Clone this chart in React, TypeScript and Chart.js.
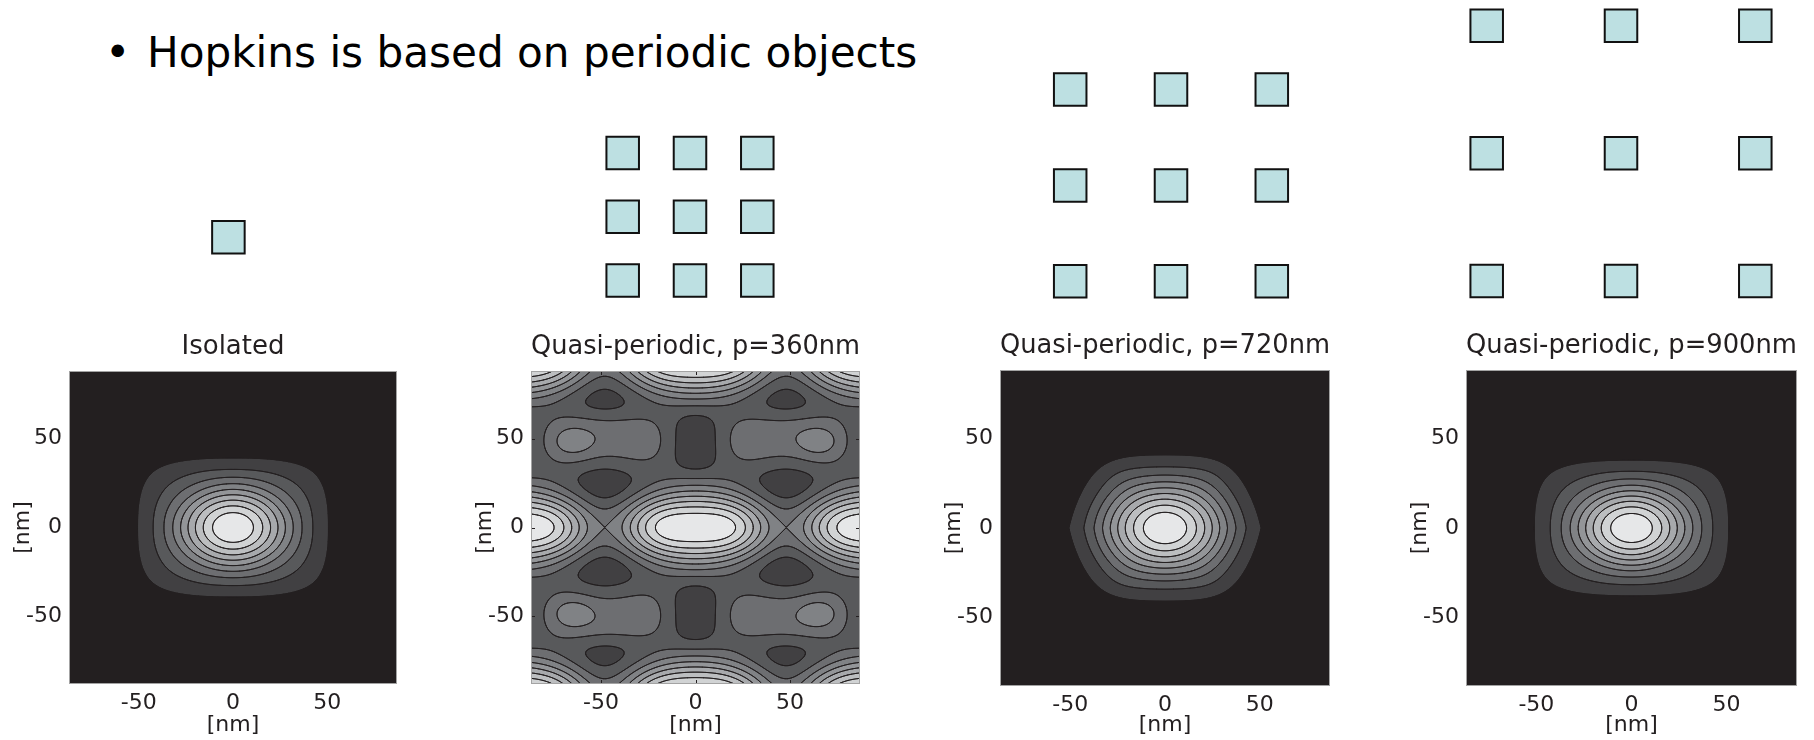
import React, { useEffect, useRef } from "react";
import { Chart, registerables } from "chart.js";

Chart.register(...registerables);

const FONT = "'DejaVu Sans', Verdana, sans-serif";
const INK = "#231f20";
const FRAME = "#a3a3a3";
const SQUARE_FILL = "#bde0e2";
const SQUARE_EDGE = "#111111";

// ---------- content ----------
const HEADLINE = "Hopkins is based on periodic objects";
const PANEL_TITLES = [
  "Isolated",
  "Quasi-periodic, p=360nm",
  "Quasi-periodic, p=720nm",
  "Quasi-periodic, p=900nm",
];
const AXIS_LABEL = "[nm]";
const TICK_VALUES = [-50, 0, 50];
const X_LIMITS = [-87, 87];
const Y_LIMITS = [-88, 88];

// intensity levels (normalised to the peak) separating the filled bands
const CONTOUR_LEVELS = [0.1, 0.2, 0.3, 0.4, 0.5, 0.6, 0.7, 0.8, 0.9];
const BAND_GRAYS = [
  "#231f20", "#414042", "#58595b", "#6d6e71", "#808285",
  "#939598", "#a7a9ac", "#bcbec0", "#d1d3d4", "#e6e7e8",
];

// single-spot aerial images: [sigma x (nm), sigma y (nm), squareness, hexagonal blend]
const SPOT_ISOLATED = [23.6, 18.2, 0.8, 0];
const SPOT_P720 = [24.8, 19.0, 0, 1];
const SPOT_P900 = [23.8, 17.6, 0.8, 0];

// p=360 aerial image: image-plane period (nm) and cosine harmonics [m, n, amplitude]
const PERIOD_P360 = 96;
const HARMONICS_P360 = [
  [0, 0, 0.4154], [1, 0, 0.1138], [0, 1, 0.2293], [1, 1, 0.2025], [0, 2, 0.1304],
  [1, 2, -0.0163], [2, 0, -0.0416], [2, 1, -0.0068], [2, 2, -0.0266],
];
// local corrections near the array border: [x, y, amplitude, width x, width y]
const LOCAL_TERMS_P360 = [
  [-64, 48, 0.06, 7, 5], [64, 48, 0.06, 7, 5],
  [-64, -48, 0.06, 7, 5], [64, -48, 0.06, 7, 5],
  [-30, 48, -0.05, 9, 7], [30, 48, -0.05, 9, 7],
  [-30, -48, -0.05, 9, 7], [30, -48, -0.05, 9, 7],
  [0, 48, -0.035, 10, 14], [0, -48, -0.035, 10, 14],
  [-48, 72, 0.025, 16, 9], [48, 72, 0.025, 16, 9],
  [-48, -72, 0.025, 16, 9], [48, -72, 0.025, 16, 9],
  [-50, 58, 0.05, 18, 6], [50, 58, 0.05, 18, 6],
  [-50, -58, 0.05, 18, 6], [50, -58, 0.05, 18, 6],
];

// mask layouts sketched above each panel (lattice indices)
const ISOLATED_SITES = [0];
const ARRAY_SITES = [-1, 0, 1];

// ---------- layout ----------
const PATTERN_LAYOUT = [
  { cx: 228.4, cy: 237.3, dx: 67.3, dy: 63.8 },
  { cx: 690, cy: 216.7, dx: 67.3, dy: 63.8 },
  { cx: 1171, cy: 185.4, dx: 100.8, dy: 95.9 },
  { cx: 1621, cy: 153.3, dx: 134.3, dy: 127.6 },
];
const PANEL_LAYOUT = [
  { left: 0, top: 334, plotW: 328, plotH: 313 },
  { left: 462, top: 334, plotW: 329, plotH: 313 },
  { left: 931, top: 333, plotW: 330, plotH: 316 },
  { left: 1397, top: 333, plotW: 331, plotH: 316 },
];
const Y_AXIS_W = 69;
const RIGHT_PAD = 4;
const TITLE_BLOCK = 37;
const PAGE_H = 740;

type Field = (x: number, y: number) => number;

const clamp01 = (t: number) => Math.min(1, Math.max(0, t));

function spotField(p: number[]): Field {
  const [sx, sy, sq, hex] = p;
  return (x, y) => {
    const ax = Math.abs(x) / sx;
    const ay = Math.abs(y) / sy;
    const re = Math.sqrt(ax * ax + ay * ay);
    let rho: number;
    if (hex > 0) {
      // flat top/bottom with slanted flanks for the outer levels
      const m = 7;
      const slant = (ax + 0.527 * ay) / 1.1356;
      const ro = Math.pow(Math.pow(ax, m) + Math.pow(ay, m) + Math.pow(slant, m), 1 / m);
      const w = Math.pow(clamp01((re - 0.8) / 1.1), 1.3) * hex;
      rho = re * (1 - w) + ro * w;
    } else {
      const n = 2 + 1.9 * sq * Math.pow(clamp01((re - 1.25) / 1.25), 1.5);
      rho = Math.pow(Math.pow(ax, n) + Math.pow(ay, n), 1 / n);
    }
    return Math.exp(-0.5 * rho * rho);
  };
}

function periodicField(x: number, y: number): number {
  const u = (2 * Math.PI * x) / PERIOD_P360;
  const v = (2 * Math.PI * y) / PERIOD_P360;
  let s = 0;
  for (const [m, n, a] of HARMONICS_P360) s += a * Math.cos(m * u) * Math.cos(n * v);
  for (const [bx, by, a, wx, wy] of LOCAL_TERMS_P360) {
    const qx = (x - bx) / wx;
    const qy = (y - by) / wy;
    s += a * Math.exp(-0.5 * (qx * qx + qy * qy));
  }
  return s;
}

const PANEL_FIELDS: Field[] = [
  spotField(SPOT_ISOLATED),
  periodicField,
  spotField(SPOT_P720),
  spotField(SPOT_P900),
];
const PANEL_SITES = [ISOLATED_SITES, ARRAY_SITES, ARRAY_SITES, ARRAY_SITES];

function hexRgb(h: string) {
  const n = parseInt(h.slice(1), 16);
  return [(n >> 16) & 255, (n >> 8) & 255, n & 255];
}

function bandIndex(v: number) {
  let b = 0;
  while (b < CONTOUR_LEVELS.length && v >= CONTOUR_LEVELS[b]) b++;
  return b;
}

// marching-squares segment table; edges: 0 bottom, 1 right, 2 top, 3 left
const SEGMENTS: (number[][] | null)[] = [
  [], [[3, 0]], [[0, 1]], [[3, 1]], [[1, 2]], null, [[0, 2]], [[3, 2]],
  [[2, 3]], [[0, 2]], null, [[1, 2]], [[3, 1]], [[0, 1]], [[3, 0]], [],
];

function contourPlugin(field: Field) {
  return {
    id: "contourField",
    beforeDatasetsDraw(chart: any) {
      const { ctx, chartArea: area } = chart;
      const xs = chart.scales.x;
      const ys = chart.scales.y;
      const left = Math.round(area.left);
      const top = Math.round(area.top);
      const w = Math.round(area.right) - left;
      const h = Math.round(area.bottom) - top;
      const rgb = BAND_GRAYS.map(hexRgb);

      // filled bands, 2x2 samples per pixel
      const img = ctx.createImageData(w, h);
      const sub = [0.25, 0.75];
      const xv = new Float64Array(w * 2);
      for (let i = 0; i < w; i++) {
        xv[i * 2] = xs.getValueForPixel(left + i + sub[0]);
        xv[i * 2 + 1] = xs.getValueForPixel(left + i + sub[1]);
      }
      for (let j = 0; j < h; j++) {
        const y0 = ys.getValueForPixel(top + j + sub[0]);
        const y1 = ys.getValueForPixel(top + j + sub[1]);
        for (let i = 0; i < w; i++) {
          let r = 0, g = 0, b = 0;
          for (const yy of [y0, y1]) {
            for (let k = 0; k < 2; k++) {
              const c = rgb[bandIndex(field(xv[i * 2 + k], yy))];
              r += c[0]; g += c[1]; b += c[2];
            }
          }
          const o = (j * w + i) * 4;
          img.data[o] = r / 4;
          img.data[o + 1] = g / 4;
          img.data[o + 2] = b / 4;
          img.data[o + 3] = 255;
        }
      }
      ctx.putImageData(img, left, top);

      // contour lines
      const step = 0.5;
      const gx0 = X_LIMITS[0] - 1, gy0 = Y_LIMITS[0] - 1;
      const nx = Math.round((X_LIMITS[1] - X_LIMITS[0] + 2) / step) + 1;
      const ny = Math.round((Y_LIMITS[1] - Y_LIMITS[0] + 2) / step) + 1;
      const grid = new Float64Array(nx * ny);
      for (let j = 0; j < ny; j++)
        for (let i = 0; i < nx; i++) grid[j * nx + i] = field(gx0 + i * step, gy0 + j * step);

      ctx.save();
      ctx.beginPath();
      ctx.rect(area.left, area.top, area.right - area.left, area.bottom - area.top);
      ctx.clip();
      ctx.strokeStyle = INK;
      ctx.lineWidth = 1;
      ctx.lineJoin = "round";
      ctx.lineCap = "round";
      for (const L of CONTOUR_LEVELS) {
        ctx.beginPath();
        for (let j = 0; j < ny - 1; j++) {
          for (let i = 0; i < nx - 1; i++) {
            const va = grid[j * nx + i];
            const vb = grid[j * nx + i + 1];
            const vc = grid[(j + 1) * nx + i + 1];
            const vd = grid[(j + 1) * nx + i];
            const code = (va >= L ? 1 : 0) | (vb >= L ? 2 : 0) | (vc >= L ? 4 : 0) | (vd >= L ? 8 : 0);
            if (code === 0 || code === 15) continue;
            let segs = SEGMENTS[code];
            if (!segs) {
              const centre = (va + vb + vc + vd) / 4 >= L;
              if (code === 5) segs = centre ? [[0, 1], [2, 3]] : [[3, 0], [1, 2]];
              else segs = centre ? [[3, 0], [1, 2]] : [[0, 1], [2, 3]];
            }
            const xa = gx0 + i * step;
            const ya = gy0 + j * step;
            const edge = (e: number): number[] => {
              if (e === 0) return [xa + ((L - va) / (vb - va)) * step, ya];
              if (e === 1) return [xa + step, ya + ((L - vb) / (vc - vb)) * step];
              if (e === 2) return [xa + ((L - vd) / (vc - vd)) * step, ya + step];
              return [xa, ya + ((L - va) / (vd - va)) * step];
            };
            for (const [e1, e2] of segs) {
              const p = edge(e1);
              const q = edge(e2);
              ctx.moveTo(xs.getPixelForValue(p[0]), ys.getPixelForValue(p[1]));
              ctx.lineTo(xs.getPixelForValue(q[0]), ys.getPixelForValue(q[1]));
            }
          }
        }
        ctx.stroke();
      }
      ctx.restore();
    },
    afterDraw(chart: any) {
      const { ctx, chartArea: a } = chart;
      const xs = chart.scales.x;
      const ys = chart.scales.y;
      ctx.save();
      ctx.strokeStyle = INK;
      ctx.lineWidth = 1;
      ctx.beginPath();
      for (const v of TICK_VALUES) {
        const px = Math.round(xs.getPixelForValue(v)) + 0.5;
        ctx.moveTo(px, a.bottom); ctx.lineTo(px, a.bottom - 4);
        ctx.moveTo(px, a.top); ctx.lineTo(px, a.top + 4);
        const py = Math.round(ys.getPixelForValue(v)) + 0.5;
        ctx.moveTo(a.left, py); ctx.lineTo(a.left + 4, py);
        ctx.moveTo(a.right, py); ctx.lineTo(a.right - 4, py);
      }
      ctx.stroke();
      ctx.strokeStyle = FRAME;
      ctx.strokeRect(a.left + 0.5, a.top + 0.5, a.right - a.left - 1, a.bottom - a.top - 1);
      ctx.restore();
    },
  };
}

function panelConfig(idx: number, canvasH: number) {
  const lay = PANEL_LAYOUT[idx];
  const xAxisH = canvasH - TITLE_BLOCK - lay.plotH;
  const tickFont = { family: FONT, size: 22, lineHeight: 1 };
  const fixedTicks = (s: any) => {
    s.ticks = TICK_VALUES.map((value) => ({ value }));
  };
  return {
    type: "scatter" as const,
    data: { datasets: [] },
    options: {
      responsive: false,
      animation: false as const,
      events: [],
      layout: { autoPadding: false, padding: { left: 0, right: RIGHT_PAD, top: 0, bottom: 0 } },
      plugins: {
        legend: { display: false },
        tooltip: { enabled: false },
        title: {
          display: true,
          text: PANEL_TITLES[idx],
          fullSize: false,
          color: INK,
          font: { family: FONT, size: 26, weight: "normal" as const, lineHeight: 1 },
          padding: { top: 0, bottom: TITLE_BLOCK - 26 },
        },
      },
      scales: {
        x: {
          type: "linear" as const,
          min: X_LIMITS[0],
          max: X_LIMITS[1],
          afterBuildTicks: fixedTicks,
          afterFit: (s: any) => {
            s.height = xAxisH;
          },
          grid: { display: false, drawTicks: false },
          border: { display: false },
          ticks: { color: INK, font: tickFont, padding: 8, maxRotation: 0, autoSkip: false },
          title: {
            display: true,
            text: AXIS_LABEL,
            color: INK,
            font: tickFont,
            padding: { top: 0, bottom: 3.5 },
          },
        },
        y: {
          type: "linear" as const,
          min: Y_LIMITS[0],
          max: Y_LIMITS[1],
          afterBuildTicks: fixedTicks,
          afterFit: (s: any) => {
            s.width = Y_AXIS_W;
          },
          grid: { display: false, drawTicks: false },
          border: { display: false },
          ticks: { color: INK, font: tickFont, padding: 7, autoSkip: false },
          title: {
            display: true,
            text: AXIS_LABEL,
            color: INK,
            font: tickFont,
            padding: { top: 12, bottom: 0 },
          },
        },
      },
    },
    plugins: [contourPlugin(PANEL_FIELDS[idx])],
  };
}

function patternGeometry(idx: number) {
  const g = PATTERN_LAYOUT[idx];
  const left = Math.floor(g.cx - g.dx - 30);
  const right = Math.ceil(g.cx + g.dx + 30);
  const top = Math.max(0, Math.floor(g.cy - g.dy - 30));
  const bottom = Math.ceil(g.cy + g.dy + 30);
  return {
    left,
    top,
    width: right - left,
    height: bottom - top,
    xmin: (left - g.cx) / g.dx,
    xmax: (right - g.cx) / g.dx,
    ymin: -(bottom - g.cy) / g.dy,
    ymax: (g.cy - top) / g.dy,
  };
}

function patternConfig(idx: number) {
  const geo = patternGeometry(idx);
  const sites = PANEL_SITES[idx];
  const data: { x: number; y: number }[] = [];
  for (const j of sites) for (const i of sites) data.push({ x: i, y: j });
  return {
    type: "scatter" as const,
    data: {
      datasets: [
        {
          data,
          pointStyle: "rect" as const,
          pointRadius: 23,
          pointHoverRadius: 23,
          backgroundColor: SQUARE_FILL,
          borderColor: SQUARE_EDGE,
          borderWidth: 2,
          clip: false as const,
        },
      ],
    },
    options: {
      responsive: false,
      animation: false as const,
      events: [],
      layout: { autoPadding: false, padding: 0 },
      plugins: { legend: { display: false }, tooltip: { enabled: false } },
      scales: {
        x: { type: "linear" as const, display: false, min: geo.xmin, max: geo.xmax },
        y: { type: "linear" as const, display: false, min: geo.ymin, max: geo.ymax },
      },
    },
  };
}

function ChartCanvas(props: { left: number; top: number; width: number; height: number; make: () => any }) {
  const ref = useRef<HTMLCanvasElement | null>(null);
  useEffect(() => {
    if (!ref.current) return;
    const chart = new Chart(ref.current, props.make());
    return () => chart.destroy();
  }, []);
  return (
    <canvas
      ref={ref}
      width={props.width}
      height={props.height}
      style={{ position: "absolute", left: props.left, top: props.top, width: props.width, height: props.height }}
    />
  );
}

export default function App() {
  const textStyle = {
    position: "absolute" as const,
    top: 27,
    fontFamily: FONT,
    fontSize: 43,
    lineHeight: "50px",
    color: "#000",
    whiteSpace: "nowrap" as const,
  };
  return (
    <div
      style={{
        position: "absolute",
        left: 0,
        top: 0,
        width: 1814,
        height: PAGE_H,
        overflow: "hidden",
        background: "#ffffff",
      }}
    >
      <div style={{ ...textStyle, left: 105 }}>•</div>
      <div style={{ ...textStyle, left: 147, transform: "scaleX(0.98)", transformOrigin: "0 0" }}>{HEADLINE}</div>
      {PATTERN_LAYOUT.map((_, i) => {
        const geo = patternGeometry(i);
        return (
          <ChartCanvas
            key={"pattern" + i}
            left={geo.left}
            top={geo.top}
            width={geo.width}
            height={geo.height}
            make={() => patternConfig(i)}
          />
        );
      })}
      {PANEL_LAYOUT.map((lay, i) => {
        const h = PAGE_H - lay.top;
        return (
          <ChartCanvas
            key={"panel" + i}
            left={lay.left}
            top={lay.top}
            width={Y_AXIS_W + lay.plotW + RIGHT_PAD}
            height={h}
            make={() => panelConfig(i, h)}
          />
        );
      })}
    </div>
  );
}
